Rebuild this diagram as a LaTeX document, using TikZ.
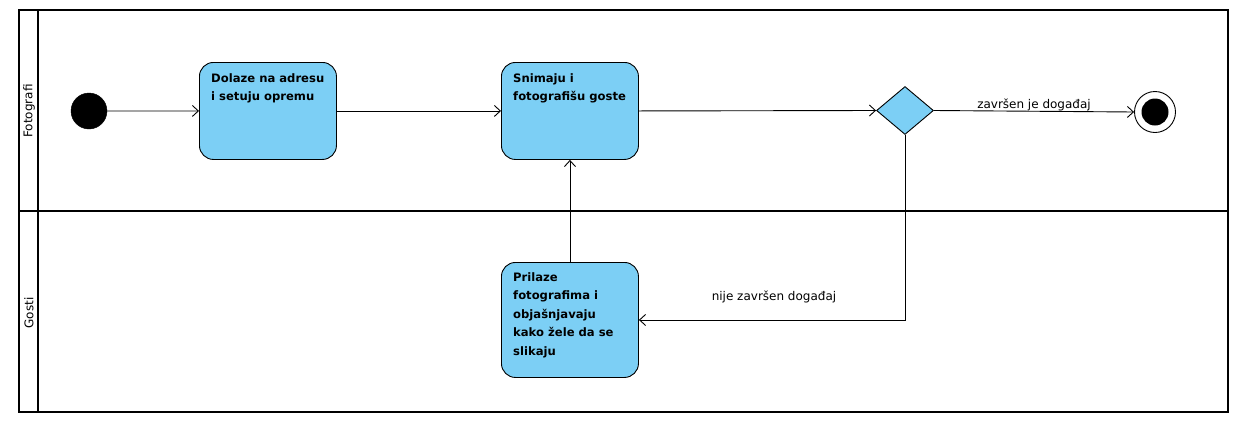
\documentclass[tikz,border=0pt]{standalone}
\usepackage{fontspec}
\setmainfont{DejaVu Sans}
\usetikzlibrary{shapes.geometric,arrows.meta}
\definecolor{actblue}{RGB}{124,207,245}
\tikzset{
  lane/.style={draw=black,line width=2pt},
  actbox/.style={draw=black,line width=0.9pt,fill=actblue,rounded corners=14pt,
    inner sep=0pt,minimum width=137pt,anchor=north west},
  acttext/.style={anchor=north west,inner sep=0pt,align=left,
    font=\fontsize{11.6}{18.6}\selectfont\bfseries},
  flow/.style={draw=black,line width=0.9pt,-{Straight Barb[length=6pt,width=11pt]}},
  lbl/.style={font=\fontsize{12}{14}\selectfont,inner sep=0pt},
  lanelbl/.style={font=\fontsize{12}{14}\selectfont,rotate=90,inner sep=0pt},
}
\begin{document}
\begin{tikzpicture}[x=1pt,y=-1pt]
\useasboundingbox (0,0) rectangle (1245,424);
% swimlanes
\draw[lane] (19,10) rectangle (1228,412);
\draw[lane] (38,10) -- (38,412);
\draw[lane] (19,211) -- (1228,211);
\node[lanelbl] (l1) at (29,111) {Fotografi};
\node[lanelbl] (l2) at (29,313) {Gosti};
% initial and final
\node[circle,fill=black,draw=black,minimum size=36pt,inner sep=0pt] (init) at (89,111) {};
\node[circle,draw=black,line width=0.9pt,fill=white,minimum size=41pt,inner sep=0pt] (fin) at (1155,112) {};
\node[circle,fill=black,minimum size=27pt,inner sep=0pt] (finin) at (fin.center) {};
% activities
\node[actbox,minimum height=97pt] (b1) at (199,62) {};
\node[acttext] (t1) at (211,73) {Dolaze na adresu\\i setuju opremu};
\node[actbox,minimum height=97pt] (b2) at (501,62) {};
\node[acttext] (t2) at (513,73) {Snimaju i\\fotografišu goste};
\node[actbox,minimum height=115pt] (b3) at (501,262) {};
\node[acttext] (t3) at (513,272) {Prilaze\\fotografima i\\objašnjavaju\\kako žele da se\\slikaju};
% decision
\node[diamond,draw=black,line width=0.9pt,fill=actblue,minimum width=57pt,minimum height=48pt,aspect=1.19,inner sep=0pt] (d) at (905,110.5) {};
% flows
\draw[flow] (init) -- (b1.west);
\draw[flow] (b1.east) -- (b2.west);
\draw[flow] (b2.east) -- (d.west);
\draw[flow] (d.east) -- (fin.west);
\draw[flow] (d.south) |- (b3.east);
\draw[flow] (b3.north) -- (b2.south);
% labels
\node[lbl,anchor=base] (e1) at (1034,108) {završen je događaj};
\node[lbl,anchor=base] (e2) at (774,300) {nije završen događaj};
\end{tikzpicture}
\end{document}
